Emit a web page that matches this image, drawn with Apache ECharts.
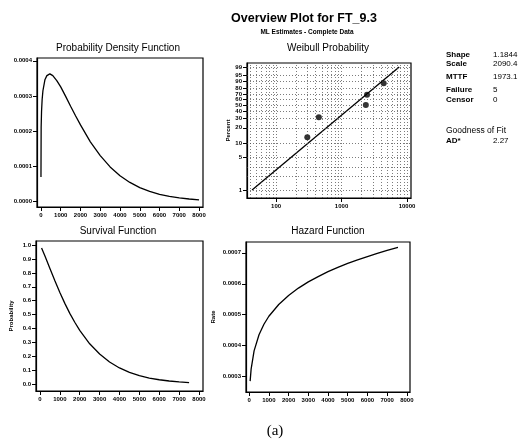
<!DOCTYPE html>
<html lang="en">
<head>
  <meta charset="UTF-8" />
  <title>Overview Plot for FT_9.3</title>
  <script src="https://cdn.jsdelivr.net/npm/echarts@6.0.0/dist/echarts.min.js"></script>
  <style>
    body,
    html {
      margin: 0;
      padding: 0;
      width: 100%;
      height: 100%;
      overflow: hidden;
      background: #fff;
    }

    #main {
      width: 522px;
      height: 445px;
    }
  </style>
</head>

<body>
  <div id="main"></div>
</body>
<script>
  // values
  var timeTicks = [0, 1000, 2000, 3000, 4000, 5000, 6000, 7000, 8000];

  var pdfT = [1, 10, 30, 60, 100, 200, 300, 450, 600, 800, 1000, 1250, 1500, 1750, 2000,
    2500, 3000, 3500, 4000, 4500, 5000, 5500, 6000, 6500, 7000, 7500, 8000];
  var pdfF = [0.00007, 0.000211, 0.000257, 0.00029, 0.000315, 0.000346, 0.000358, 0.000363,
    0.000358, 0.000344, 0.000326, 0.000299, 0.000271, 0.000244, 0.000218, 0.00017, 0.000131,
    0.0000988, 0.0000739, 0.0000547, 0.0000401, 0.0000292, 0.0000211, 0.0000151, 0.0000108,
    0.0000077, 0.0000054];
  var pdfTicks = [0, 0.0001, 0.0002, 0.0003, 0.0004];

  var survT = [80, 250, 500, 750, 1000, 1250, 1500, 1750, 2000, 2500, 3000, 3500, 4000, 4500,
    5000, 5500, 6000, 6500, 7000, 7500];
  var survS = [0.979, 0.922, 0.832, 0.743, 0.659, 0.581, 0.509, 0.445, 0.387, 0.29, 0.216,
    0.159, 0.116, 0.084, 0.06, 0.043, 0.031, 0.022, 0.015, 0.011];
  var survTicks = [0, 0.1, 0.2, 0.3, 0.4, 0.5, 0.6, 0.7, 0.8, 0.9, 1.0];

  var hazT = [50, 100, 250, 500, 750, 1000, 1500, 2000, 2500, 3000, 3500, 4000, 4500, 5000,
    5500, 6000, 6500, 7000, 7550];
  var hazH = [0.000285, 0.000324, 0.000383, 0.000435, 0.000469, 0.000495, 0.000533, 0.000562,
    0.000586, 0.000606, 0.000623, 0.000639, 0.000653, 0.000666, 0.000677, 0.000688, 0.000698,
    0.000708, 0.000718];
  var hazTicks = [0.0003, 0.0004, 0.0005, 0.0006, 0.0007];

  // weibull probability plot
  var wbT = [300, 450, 2350, 2450, 4400];
  var wbP = [12.96, 31.48, 50, 68.52, 87.04];
  var fitT = [43, 7590];
  var fitP = [1, 99];
  var wbTimeTicks = [100, 1000, 10000];
  var wbPctTicks = [1, 5, 10, 20, 30, 40, 50, 60, 70, 80, 90, 95, 99];
  var wbGridT = [40, 50, 60, 70, 80, 90, 100, 200, 300, 400, 500, 600, 700, 800, 900,
    1000, 2000, 3000, 4000, 5000, 6000, 7000, 8000, 9000, 10000];
  var wbGridP = [1, 2, 3, 5, 10, 20, 30, 40, 50, 60, 70, 80, 90, 95, 99];

  var statNames = ['Shape', 'Scale', 'MTTF', 'Failure', 'Censor'];
  var statValues = ['1.1844', '2090.4', '1973.1', '5', '0'];
  var statRows = [55, 64, 77, 90, 100];

  // weibull scale: ln(-ln(1-p))
  function wb(p) {
    return Math.log(-Math.log(1 - p / 100));
  }

  function pairs(xs, ys) {
    return xs.map(function (x, i) { return [x, ys[i]]; });
  }

  var black = '#000';
  var font = 'Liberation Sans, Arial, sans-serif';

  function plain(v) {
    return String(v);
  }

  function xAxisFor(gi, type, min, max, ticks) {
    return {
      gridIndex: gi,
      type: type,
      min: min,
      max: max,
      axisLine: { show: true, onZero: false, lineStyle: { color: black, width: 1.2 } },
      axisTick: { show: true, length: 4, customValues: ticks, lineStyle: { color: black } },
      axisLabel: {
        customValues: ticks, color: black, fontSize: 6, fontWeight: 'bold',
        fontFamily: font, margin: 5, formatter: plain
      },
      splitLine: { show: false },
      minorTick: { show: false }
    };
  }

  function yAxisFor(gi, min, max, ticks, name, gap, fmt) {
    return {
      gridIndex: gi,
      type: 'value',
      min: min,
      max: max,
      name: name,
      nameLocation: 'middle',
      nameGap: gap,
      nameRotate: 90,
      nameTextStyle: { color: black, fontSize: 6, fontWeight: 'bold', fontFamily: font },
      axisLine: { show: true, onZero: false, lineStyle: { color: black, width: 1.2 } },
      axisTick: { show: true, length: 4, customValues: ticks, lineStyle: { color: black } },
      axisLabel: {
        customValues: ticks, color: black, fontSize: 6, fontWeight: 'bold',
        fontFamily: font, margin: 5, formatter: fmt
      },
      splitLine: { show: false }
    };
  }

  function gridBox(left, top, width, height) {
    return {
      left: left, top: top, width: width, height: height,
      show: true, borderColor: black, borderWidth: 1.2,
      containLabel: false, outerBoundsMode: 'none'
    };
  }

  function txt(x, y, s, size, weight, align, family) {
    return {
      type: 'text', x: x, y: y,
      style: {
        text: s, fill: black, font: (weight || 'normal') + ' ' + size + 'px ' + (family || font),
        align: align || 'center', verticalAlign: 'middle'
      }
    };
  }

  var curveStyle = { color: black, width: 1.3 };

  var graphics = [
    txt(304, 19, 'Overview Plot for FT_9.3', 12.5, 'bold'),
    txt(307, 32, 'ML Estimates - Complete Data', 6.5, 'bold'),
    txt(118, 48, 'Probability Density Function', 10),
    txt(328, 48, 'Weibull Probability', 10),
    txt(118, 231, 'Survival Function', 10),
    txt(328, 231, 'Hazard Function', 10),
    txt(446, 131, 'Goodness of Fit', 8.5, 'normal', 'left'),
    txt(446, 141, 'AD*', 8, 'bold', 'left'),
    txt(493, 141, '2.27', 8, 'normal', 'left'),
    txt(275, 431, '(a)', 15, 'normal', 'center', 'Liberation Serif, serif')
  ];
  statNames.forEach(function (n, i) {
    graphics.push(txt(446, statRows[i], n, 8, 'bold', 'left'));
    graphics.push(txt(493, statRows[i], statValues[i], 8, 'normal', 'left'));
  });

  var myChart = echarts.init(document.getElementById('main'), null, { renderer: 'canvas' });

  var option = {
    backgroundColor: '#fff',
    animation: false,
    grid: [
      gridBox(37, 58, 166, 149),
      gridBox(247, 63, 164, 135),
      gridBox(36, 241, 167, 150),
      gridBox(246, 242, 164, 150)
    ],
    xAxis: [
      xAxisFor(0, 'value', -200, 8200, timeTicks),
      xAxisFor(1, 'log', 36, 11500, wbTimeTicks),
      xAxisFor(2, 'value', -200, 8200, timeTicks),
      xAxisFor(3, 'value', -160, 8160, timeTicks)
    ],
    yAxis: [
      yAxisFor(0, -0.000015, 0.000408, pdfTicks, '', 0, function (v) { return v.toFixed(4); }),
      yAxisFor(1, -5.0, 1.73, wbPctTicks.map(wb), 'Percent', 16, function (v) {
        return String(Math.round((1 - Math.exp(-Math.exp(v))) * 100));
      }),
      yAxisFor(2, -0.05, 1.03, survTicks, 'Probability', 22, function (v) { return v.toFixed(1); }),
      yAxisFor(3, 0.00025, 0.000735, hazTicks, 'Rate', 30, function (v) { return v.toFixed(4); })
    ],
    graphic: graphics,
    series: [
      {
        type: 'line', xAxisIndex: 0, yAxisIndex: 0,
        data: pairs(pdfT, pdfF), showSymbol: false, lineStyle: curveStyle
      },
      {
        type: 'line', xAxisIndex: 1, yAxisIndex: 1,
        data: pairs(fitT, fitP.map(wb)), showSymbol: false, lineStyle: curveStyle,
        markLine: {
          silent: true, symbol: 'none', animation: false,
          label: { show: false },
          lineStyle: { color: '#444', width: 0.7, type: [1, 2] },
          data: wbGridT.map(function (t) { return { xAxis: t }; })
            .concat(wbGridP.map(function (p) { return { yAxis: wb(p) }; }))
        }
      },
      {
        type: 'scatter', xAxisIndex: 1, yAxisIndex: 1,
        data: pairs(wbT, wbP.map(wb)), symbolSize: 6, itemStyle: { color: black }
      },
      {
        type: 'line', xAxisIndex: 2, yAxisIndex: 2,
        data: pairs(survT, survS), showSymbol: false, lineStyle: curveStyle
      },
      {
        type: 'line', xAxisIndex: 3, yAxisIndex: 3,
        data: pairs(hazT, hazH), showSymbol: false, lineStyle: curveStyle
      }
    ]
  };
  myChart.setOption(option);
</script>

</html>
